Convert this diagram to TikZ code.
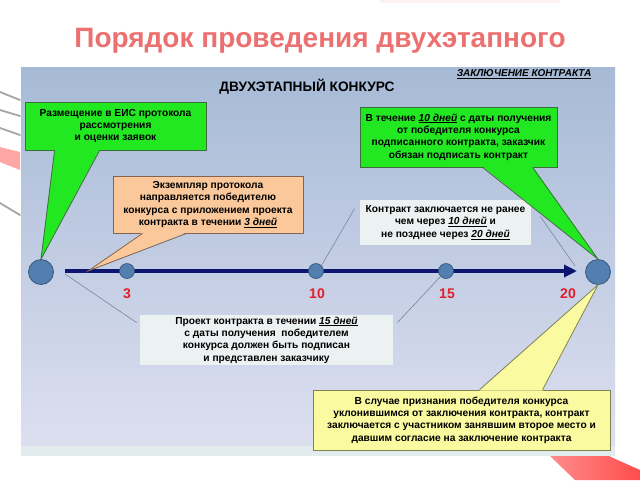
\documentclass[tikz,border=0pt]{standalone}
\usepackage{fontspec}
\setmainfont{Liberation Sans}
\usetikzlibrary{calc,arrows.meta}
\definecolor{titlered}{RGB}{236,112,112}
\definecolor{gfill}{RGB}{34,232,34}
\definecolor{gline}{RGB}{60,110,60}
\definecolor{pfill}{RGB}{250,200,154}
\definecolor{pline}{RGB}{130,100,80}
\definecolor{yfill}{RGB}{250,250,160}
\definecolor{yline}{RGB}{130,130,80}
\definecolor{wfill}{RGB}{236,242,242}
\definecolor{cfill}{RGB}{82,126,176}
\definecolor{cline}{RGB}{50,80,120}
\definecolor{navy}{RGB}{12,22,112}
\definecolor{numred}{RGB}{226,30,42}
\definecolor{thinl}{RGB}{120,135,155}
\definecolor{paneltop}{RGB}{166,186,214}
\definecolor{panelmid}{RGB}{202,213,232}
\definecolor{panelbot}{RGB}{221,223,240}
\definecolor{panelstrip}{RGB}{227,236,236}
\tikzset{
  callout/.style={draw, line width=0.8pt, inner sep=0pt, align=center,
    font=\bfseries\fontsize{10.2}{12.4}\selectfont},
  greenbox/.style={callout, fill=gfill, draw=gline},
  peachbox/.style={callout, fill=pfill, draw=pline},
  yellowbox/.style={callout, fill=yfill, draw=yline},
  whitebox/.style={callout, fill=wfill, draw=none},
  bigdot/.style={circle, fill=cfill, draw=cline, line width=0.7pt, minimum size=25pt, inner sep=0pt},
  smalldot/.style={circle, fill=cfill, draw=cline, line width=0.6pt, minimum size=15pt, inner sep=0pt},
  num/.style={text=numred, font=\bfseries\fontsize{14}{14}\selectfont},
  thinline/.style={draw=thinl, line width=0.6pt},
  axisline/.style={draw=navy, line width=3.2pt, -{Triangle[length=13pt,width=12pt]}},
}
\begin{document}
\begin{tikzpicture}[x=1pt,y=-1pt]
\useasboundingbox (0,0) rectangle (640,480);
\fill[white] (0,0) rectangle (640,480);
% slide decorations
\fill[red!5] (380,0) rectangle (560,3);
\foreach \ya/\yb in {92/100,110/116,128/135,203/215}
  \draw[gray!70, line width=1.8pt, line cap=round] (0,\ya) -- (20,\yb);
\fill[red!35] (0,147) -- (20,152) -- (20,170) -- (0,162) -- cycle;
\shade[left color=red!45, right color=red!70] (550,456) -- (600,452) -- (622,462) -- (640,470) -- (640,480) -- (575,480) -- cycle;
% title
\node (title) at (320,41) {\bfseries\fontsize{28}{28}\selectfont\color{titlered}Порядок проведения двухэтапного};
% panel
\shade[top color=paneltop, middle color=panelmid, bottom color=panelbot] (21,67) rectangle (615,446);
\fill[panelstrip] (21,446) rectangle (615,456);
\node (head) at (307,87) {\bfseries\fontsize{13.7}{13.7}\selectfont ДВУХЭТАПНЫЙ КОНКУРС};
\node (zk) at (524,74) {\bfseries\itshape\fontsize{10}{10}\selectfont\underline{ЗАКЛЮЧЕНИЕ КОНТРАКТА}};
% axis
\coordinate (a0) at (65,271);
\coordinate (a1) at (577,271);
\coordinate (p3) at (88,271);
\coordinate (a0b) at (65,274);
\coordinate (arr) at (575,266);
\draw[axisline] (a0) -- (a1);
\node[bigdot] (c0) at (41,272) {};
\node[smalldot] (c3) at (127,271) {};
\node[smalldot] (c10) at (316,271) {};
\node[smalldot] (c15) at (446,271) {};
\node[bigdot] (c20) at (598,272) {};
\node[num] (n3) at (127,294) {3};
\node[num] (n10) at (317,294) {10};
\node[num] (n15) at (447,294) {15};
\node[num] (n20) at (568,294) {20};
% white boxes and thin connectors
\node[whitebox, minimum width=171pt, minimum height=45pt] (w1) at (445.5,222.5)
  {Контракт заключается не ранее\\чем через \underline{\itshape 10 дней} и\\не позднее через \underline{\itshape 20 дней}};
\node[whitebox, minimum width=253pt, minimum height=50pt] (w2) at (266.5,340)
  {Проект контракта в течении \underline{\itshape 15 дней}\\с даты получения\ \ победителем\\конкурса должен быть подписан\\и представлен заказчику};
\coordinate (w1l) at ($(w1.north west)+(-5,9)$);
\coordinate (w1r) at ($(w1.north east)+(9,17)$);
\coordinate (w2l) at ($(w2.north west)+(-3,8)$);
\coordinate (w2r) at ($(w2.north east)+(4,8)$);
\draw[thinline] (w1l) -- (c10.north east);
\draw[thinline] (w1r) -- (arr);
\draw[thinline] (a0b) -- (w2l);
\draw[thinline] (w2r) -- (c15.south west);
% green box 1
\node[greenbox, minimum width=181pt, minimum height=48pt] (g1) at (115.5,126)
  {Размещение в ЕИС протокола\\рассмотрения\\и оценки заявок};
\fill[gfill] ($(g1.south west)+(30,-1)$) -- (c0.north) -- ($(g1.south west)+(75,-1)$) -- cycle;
\draw[gline, line width=0.8pt, line join=miter] ($(g1.south west)+(30,0)$) -- (c0.north) -- ($(g1.south west)+(75,0)$);
% peach box
\node[peachbox, minimum width=190pt, minimum height=57pt] (pb) at (208,204.5)
  {Экземпляр протокола\\направляется победителю\\конкурса с приложением проекта\\контракта в течении \underline{\itshape 3 дней}};
\fill[pfill] ($(pb.south west)+(30,-1)$) -- (p3) -- ($(pb.south west)+(74,-1)$) -- cycle;
\draw[pline, line width=0.8pt] ($(pb.south west)+(30,0)$) -- (p3) -- ($(pb.south west)+(74,0)$);
% green box 2
\node[greenbox, minimum width=197pt, minimum height=60pt] (g2) at (458.5,137)
  {В течение \underline{\itshape 10 дней} с даты получения\\от победителя конкурса\\подписанного контракта, заказчик\\обязан подписать контракт};
\fill[gfill] ($(g2.south west)+(123,-1)$) -- (c20.north) -- ($(g2.south west)+(173,-1)$) -- cycle;
\draw[gline, line width=0.8pt] ($(g2.south west)+(123,0)$) -- (c20.north) -- ($(g2.south west)+(173,0)$);
% yellow box
\node[yellowbox, minimum width=297pt, minimum height=60pt] (yb) at (461.5,420)
  {В случае признания победителя конкурса\\уклонившимся от заключения контракта, контракт\\заключается с участником занявшим второе место и\\давшим согласие на заключение контракта};
\fill[yfill] ($(yb.north west)+(167,1)$) -- (c20.south) -- ($(yb.north west)+(230,1)$) -- cycle;
\draw[yline, line width=0.8pt] ($(yb.north west)+(167,0)$) -- (c20.south) -- ($(yb.north west)+(230,0)$);
\end{tikzpicture}
\end{document}
